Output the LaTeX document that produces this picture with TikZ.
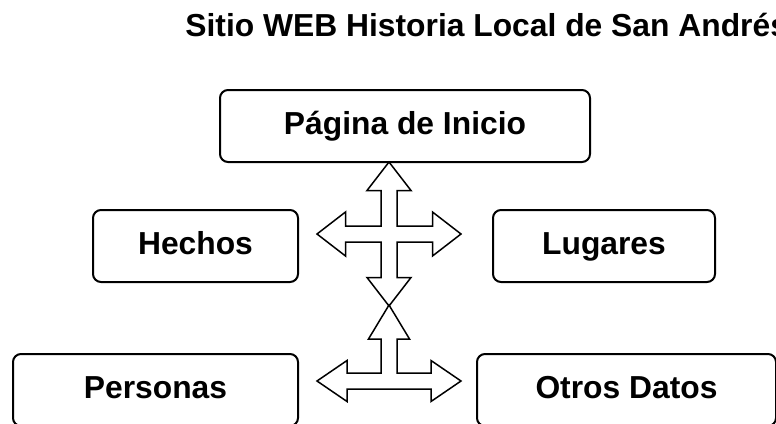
\documentclass[tikz,border=0pt]{standalone}
\usepackage{fontspec}
\setmainfont{Liberation Sans}
\usetikzlibrary{positioning}
\tikzstyle{sitetitle} = [anchor=base west, inner sep=0pt, font=\fontsize{15.9}{19}\selectfont\bfseries]
\tikzstyle{page} = [rectangle, rounded corners=4pt, minimum height=36pt, text centered, draw=black, line width=1pt, font=\fontsize{15.9}{19}\selectfont\bfseries, text height=11.5pt, text depth=2.9pt, align=center]
\tikzstyle{blockarrow} = [draw=black, fill=white, line width=0.75pt, line join=miter]

\begin{document}
\begin{tikzpicture}[node distance=60pt]
\useasboundingbox (0,0) rectangle (388pt,-211.5pt);
\clip (0,0) rectangle (388pt,-211.5pt);

\node (title) [sitetitle] at (92.5pt,-18pt) {Sitio WEB Historia Local de San Andrés};
\node (inicio) [page, minimum width=185pt] at (202.5pt,-63pt) {Página de Inicio};
\node (hechos) [page, minimum width=102.5pt, below of=inicio, xshift=-104.75pt] {Hechos};
\node (lugares) [page, minimum width=111pt, below of=inicio, xshift=99.5pt] {Lugares};
\node (personas) [page, minimum width=142.5pt, node distance=72pt, below of=hechos, xshift=-20pt] {Personas};
\node (otros) [page, minimum width=149.5pt, node distance=72pt, below of=lugares, xshift=11.25pt] {Otros Datos};

\coordinate (upcross) at ([xshift=-8pt, yshift=-35.5pt]inicio.south);
\coordinate (lowcross) at ([yshift=-73.5pt]upcross);

% four way arrow under the home page
\begin{scope}[shift={(upcross)}, x=0.5pt, y=0.5pt]
\draw [blockarrow] (8,8) -- (8,43.5) -- (22,43.5) -- (0,72) -- (-22,43.5) -- (-8,43.5) -- (-8,8)
  -- (-43.5,8) -- (-43.5,22) -- (-72,0) -- (-43.5,-22) -- (-43.5,-8) -- (-8,-8)
  -- (-8,-43.5) -- (-22,-43.5) -- (0,-72) -- (22,-43.5) -- (8,-43.5) -- (8,-8)
  -- (43.5,-8) -- (43.5,-22) -- (72,0) -- (43.5,22) -- (43.5,8) -- cycle;
\end{scope}

% three way arrow at the bottom
\begin{scope}[shift={(lowcross)}, x=0.5pt, y=0.5pt]
\draw [blockarrow] (8,8) -- (8,42) -- (20.5,42) -- (0,76) -- (-20.5,42) -- (-8,42) -- (-8,8)
  -- (-42,8) -- (-42,20.5) -- (-72,0) -- (-42,-20.5) -- (-42,-8)
  -- (42,-8) -- (42,-20.5) -- (72,0) -- (42,20.5) -- (42,8) -- cycle;
\end{scope}

\end{tikzpicture}
\end{document}
